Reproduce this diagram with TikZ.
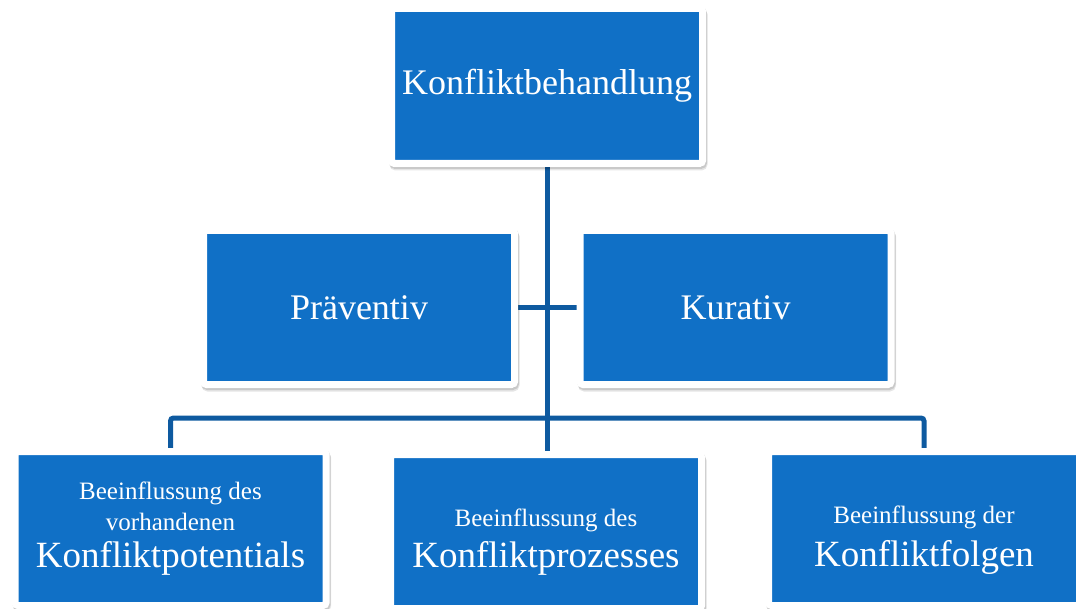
\documentclass[tikz,border=0pt]{standalone}
\usepackage{fontspec}
\setmainfont{Liberation Serif}
\usetikzlibrary{shadows,backgrounds}
\definecolor{boxblue}{RGB}{16,112,198}
\definecolor{linkblue}{RGB}{14,90,160}
\newcommand\smtxt{\fontsize{25}{27}\selectfont}
\newcommand\lgtxt{\fontsize{37}{40}\selectfont}
\tikzset{
  box/.style={rectangle, fill=boxblue, draw=white, line width=7pt, rounded corners=3pt,
    minimum width=311pt, minimum height=154pt, inner sep=2pt, text=white, align=center,
    font=\fontsize{36}{40}\selectfont,
    drop shadow={shadow xshift=1pt, shadow yshift=-2pt, draw=black, line width=7pt, fill=black, opacity=0.12},
    drop shadow={shadow xshift=1.5pt, shadow yshift=-3.5pt, draw=black, line width=7pt, fill=black, opacity=0.10}},
  link/.style={draw=linkblue, line width=5pt},
}
\begin{document}
\begin{tikzpicture}[x=1pt, y=-1pt]
  \useasboundingbox (0,0) rectangle (1078,609);
  \clip (0,0) rectangle (1078,609);
  \node[box, minimum height=155pt] (kb) at (547,86) {Konfliktbehandlung};
  \node[box] (prae) at (359,307.5) {Präventiv};
  \node[box] (kur) at (735.5,307.5) {Kurativ};
  \node[box] (pot) at (170.5,528.5) {\smtxt Beeinflussung des\\[-9pt]\smtxt vorhandenen\\[-3pt]\lgtxt Konfliktpotentials};
  \node[box] (proz) at (546,531.5) {\rule{0pt}{38pt}\smtxt Beeinflussung des\\[1pt]\lgtxt Konfliktprozesses};
  \node[box] (folg) at (924,528.5) {\rule{0pt}{40pt}\smtxt Beeinflussung der\\[3pt]\lgtxt Konfliktfolgen};
  \coordinate (bus) at (546,418);
  \begin{scope}[on background layer]
    \draw[link] (kb) -- (kb |- proz.north);
    \draw[link] (prae) -- (kur);
    \draw[link, rounded corners=3pt] (pot) |- (bus) -| (folg);
  \end{scope}
\end{tikzpicture}
\end{document}
